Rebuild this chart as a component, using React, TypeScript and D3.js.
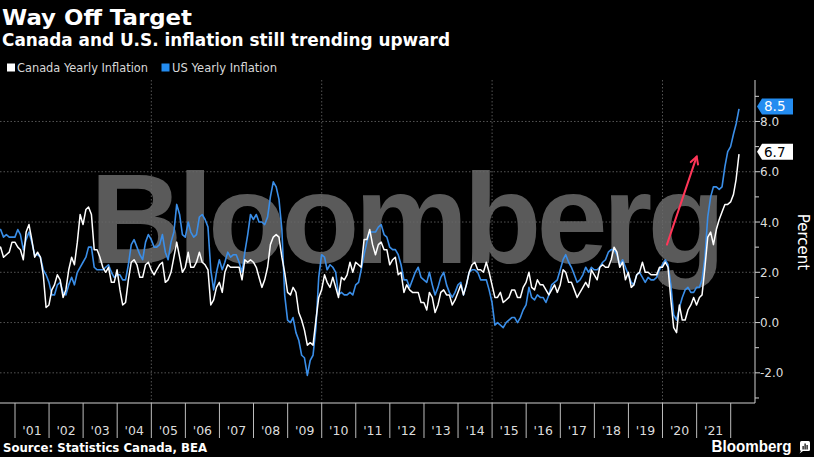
import React from "react";
import * as d3 from "d3";

// ---- Data (monthly YoY %, from Jun 2000 to Mar 2022) ----
const START_YEAR = 2000;
const START_MONTH = 6; // June

const canada: number[] = [
  2.9, 3.0, 2.6, 2.7, 2.8, 3.2, 3.2,
  3.0, 2.9, 2.5, 3.6, 3.9, 3.3, 2.6, 2.8, 2.6, 1.9, 0.6, 0.7,
  1.3, 1.5, 1.9, 1.7, 1.0, 1.3, 2.1, 2.6, 2.3, 3.2, 4.3, 3.9,
  4.5, 4.6, 4.3, 2.9, 2.9, 2.6, 2.2, 2.0, 2.2, 1.6, 1.6, 2.1,
  1.3, 0.7, 0.8, 1.7, 2.4, 2.5, 2.3, 1.8, 1.8, 2.3, 2.4, 2.1,
  1.9, 2.1, 2.3, 2.4, 1.6, 1.7, 2.0, 2.6, 3.2, 2.6, 2.0, 2.2,
  2.8, 2.2, 2.2, 2.4, 2.8, 2.4, 2.3, 2.1, 0.7, 0.9, 1.4, 1.6,
  1.2, 2.0, 2.3, 2.2, 2.2, 2.2, 2.2, 1.7, 2.5, 2.4, 2.5, 2.4,
  2.2, 1.8, 1.4, 1.7, 2.2, 3.1, 3.4, 3.5, 3.4, 2.6, 2.0, 1.2,
  1.1, 1.4, 1.2, 0.4, 0.1, -0.3, -0.9, -0.8, -0.9, 0.1, 1.0, 1.3,
  1.9, 1.6, 1.4, 1.8, 1.4, 1.0, 1.8, 1.7, 1.9, 2.4, 2.0, 2.4,
  2.3, 2.2, 3.3, 3.3, 3.7, 3.1, 2.7, 3.1, 3.2, 2.9, 2.9, 2.3,
  2.5, 2.6, 1.9, 2.0, 1.2, 1.5, 1.3, 1.2, 1.2, 1.2, 0.8, 0.8,
  0.5, 1.2, 1.0, 0.4, 0.7, 1.2, 1.3, 1.1, 1.1, 0.7, 0.9, 1.2,
  1.5, 1.1, 1.5, 2.0, 2.3, 2.4, 2.1, 2.1, 2.0, 2.4, 2.0, 1.5,
  1.0, 1.0, 1.2, 0.8, 0.9, 1.0, 1.3, 1.3, 1.0, 1.0, 1.4, 1.6,
  2.0, 1.4, 1.3, 1.7, 1.5, 1.5, 1.3, 1.1, 1.3, 1.5, 1.2, 1.5,
  2.1, 2.0, 1.6, 1.6, 1.3, 1.0, 1.2, 1.4, 1.6, 1.4, 2.1, 1.9,
  1.7, 2.2, 2.3, 2.2, 2.2, 2.5, 3.0, 2.8, 2.2, 2.4, 1.7, 2.0,
  1.4, 1.5, 1.9, 2.0, 2.4, 2.0, 2.0, 1.9, 1.9, 1.9, 2.2, 2.2,
  2.4, 2.2, 0.9, -0.2, -0.4, 0.7, 0.1, 0.1, 0.5, 0.7, 1.0, 0.7,
  1.0, 1.1, 2.2, 3.4, 3.6, 3.1, 3.7, 4.1, 4.4, 4.7, 4.7, 4.8,
  5.1, 5.7, 6.7,
];

const us: number[] = [
  3.7, 3.7, 3.4, 3.5, 3.4, 3.4, 3.4,
  3.7, 3.5, 2.9, 3.3, 3.6, 3.2, 2.7, 2.7, 2.6, 2.1, 1.9, 1.6,
  1.1, 1.1, 1.5, 1.6, 1.2, 1.1, 1.5, 1.8, 1.5, 2.0, 2.2, 2.4,
  2.6, 3.0, 3.0, 2.2, 2.1, 2.1, 2.1, 2.2, 2.3, 2.0, 1.8, 1.9,
  1.9, 1.7, 1.7, 2.3, 3.1, 3.3, 3.0, 2.7, 2.5, 3.2, 3.5, 3.3,
  3.0, 3.0, 3.1, 3.5, 2.8, 2.5, 3.2, 3.6, 4.7, 4.3, 3.5, 3.4,
  4.0, 3.6, 3.4, 3.5, 4.2, 4.3, 4.1, 3.8, 2.1, 1.3, 2.0, 2.5,
  2.1, 2.4, 2.8, 2.6, 2.7, 2.7, 2.4, 2.0, 2.8, 3.5, 4.3, 4.1,
  4.3, 4.0, 4.0, 3.9, 4.2, 5.0, 5.6, 5.4, 4.9, 3.7, 1.1, 0.1,
  0.0, 0.2, -0.4, -0.7, -1.3, -1.4, -2.1, -1.5, -1.3, -0.2, 1.8, 2.7,
  2.6, 2.1, 2.3, 2.2, 2.0, 1.1, 1.2, 1.1, 1.1, 1.2, 1.1, 1.5,
  1.6, 2.1, 2.7, 3.2, 3.6, 3.6, 3.6, 3.8, 3.9, 3.5, 3.4, 3.0,
  2.9, 2.9, 2.7, 2.3, 1.7, 1.7, 1.4, 1.7, 2.0, 2.2, 1.8, 1.7,
  1.6, 2.0, 1.5, 1.1, 1.4, 1.8, 2.0, 1.5, 1.2, 1.0, 1.2, 1.5,
  1.6, 1.1, 1.5, 2.0, 2.1, 2.1, 2.0, 1.7, 1.7, 1.7, 1.3, 0.8,
  -0.1, 0.0, -0.1, -0.2, 0.0, 0.1, 0.2, 0.2, 0.0, 0.2, 0.5, 0.7,
  1.4, 1.0, 0.9, 1.1, 1.0, 1.0, 0.8, 1.1, 1.5, 1.6, 1.7, 2.1,
  2.5, 2.7, 2.4, 2.2, 1.9, 1.6, 1.7, 1.9, 2.2, 2.0, 2.2, 2.1,
  2.1, 2.2, 2.4, 2.5, 2.8, 2.9, 2.9, 2.7, 2.3, 2.5, 2.2, 1.9,
  1.6, 1.5, 1.9, 2.0, 1.8, 1.6, 1.8, 1.7, 1.7, 1.8, 2.1, 2.3,
  2.5, 2.3, 1.5, 0.3, 0.1, 0.6, 1.0, 1.3, 1.4, 1.2, 1.2, 1.4,
  1.4, 1.7, 2.6, 4.2, 5.0, 5.4, 5.4, 5.3, 5.4, 6.2, 6.8, 7.0,
  7.5, 7.9, 8.5,
];

const yearTicks: number[] = d3.range(2001, 2023);
const yearLabels: number[] = d3.range(2001, 2022);
const yMajorTicks: number[] = [-2, 0, 2, 4, 6, 8];
const yMinorTicks: number[] = [-3, -1, 1, 3, 5, 7, 9];
const gridYears: number[] = [2005, 2010, 2015, 2020];
// arrow annotation in data space: [year fraction, value]
const arrowFrom: [number, number] = [2020.13, 3.1];
const arrowTo: [number, number] = [2021.0, 6.6];

const title = "Way Off Target";
const subtitle = "Canada and U.S. inflation still trending upward";
const legendItems = ["Canada Yearly Inflation", "US Yearly Inflation"];
const source = "Source: Statistics Canada, BEA";

// ---- Layout ----
const W = 814;
const H = 457;
const PL = 0, PR = 755, PT = 80, PB = 403;
const WHITE = "#ffffff";
const BLUE = "#3a8ee8";
const BOX_BLUE = "#238cf0";
const FONT = "'DejaVu Sans', Verdana, sans-serif";

const monthEnd = (i: number) => new Date(START_YEAR, START_MONTH - 1 + i + 1, 0);
const yearDate = (yf: number) => {
  const y = Math.floor(yf);
  const ms = new Date(y + 1, 0, 1).getTime() - new Date(y, 0, 1).getTime();
  return new Date(new Date(y, 0, 1).getTime() + (yf - y) * ms);
};

export default function App() {
  const x = d3.scaleTime()
    .domain([new Date(2001, 0, 1), new Date(2022, 0, 1)])
    .range([15, 730.7]);
  const y = d3.scaleLinear().domain([-3.2, 9.65]).range([PB, PT]);

  const line = d3.line<number>()
    .x((_, i) => x(monthEnd(i)))
    .y((d) => y(d));

  const usLast = us[us.length - 1];
  const caLast = canada[canada.length - 1];

  const ax1 = x(yearDate(arrowFrom[0])), ay1 = y(arrowFrom[1]);
  const ax2 = x(yearDate(arrowTo[0])), ay2 = y(arrowTo[1]);
  const ang = Math.atan2(ay2 - ay1, ax2 - ax1);
  const hl = 8;
  const h1 = [ax2 - hl * Math.cos(ang - 0.5), ay2 - hl * Math.sin(ang - 0.5)];
  const h2 = [ax2 - hl * Math.cos(ang + 0.5), ay2 - hl * Math.sin(ang + 0.5)];

  const valueBox = (v: number, fill: string, textFill: string) => {
    const cy = y(v) - 2.5;
    const x0 = PR + 2;
    const path = `M${x0},${cy} L${x0 + 5},${cy - 8} L${x0 + 36},${cy - 8} L${x0 + 36},${cy + 8} L${x0 + 5},${cy + 8} Z`;
    return (
      <g>
        <path d={path} fill={fill} />
        <text x={x0 + 7} y={cy + 5} fontSize={13.5} fill={textFill} fontFamily={FONT}>
          {v.toFixed(1)}
        </text>
      </g>
    );
  };

  return (
    <svg width={W} height={H} style={{ position: "absolute", left: 0, top: 0, display: "block" }}>
      <rect x={0} y={0} width={W} height={H} fill="#000" />
      <defs>
        <clipPath id="plotclip">
          <rect x={PL} y={PT} width={PR - PL} height={PB - PT} />
        </clipPath>
      </defs>

      {/* Titles */}
      <text x={2} y={25} fontFamily={FONT} fontWeight="bold" fontSize={22} fill="#fff"
        textLength={190} lengthAdjust="spacingAndGlyphs">{title}</text>
      <text x={2} y={46} fontFamily={FONT} fontWeight="bold" fontSize={17.5} fill="#fff"
        textLength={448} lengthAdjust="spacingAndGlyphs">{subtitle}</text>

      {/* Legend */}
      <rect x={7} y={63.5} width={8} height={8} fill={WHITE} />
      <text x={17} y={72.3} fontFamily={FONT} fontSize={11.5} fill="#d8d8d8"
        textLength={131} lengthAdjust="spacingAndGlyphs">{legendItems[0]}</text>
      <rect x={161.5} y={63.5} width={8} height={8} fill={BOX_BLUE} />
      <text x={172} y={72.3} fontFamily={FONT} fontSize={11.5} fill="#d8d8d8"
        textLength={105} lengthAdjust="spacingAndGlyphs">{legendItems[1]}</text>

      {/* Watermark */}
      <text x={90} y={263} fontFamily="'Liberation Sans', Arial, sans-serif" fontWeight="bold"
        fontSize={128} letterSpacing={-5} fill="#5a5a5a">Bloomberg</text>

      {/* Grid */}
      {yMajorTicks.map((v) => (
        <line key={"gy" + v} x1={PL} x2={PR} y1={y(v)} y2={y(v)} stroke="#6a6a6a" strokeWidth={0.8} strokeDasharray="1.5,2" />
      ))}
      {gridYears.map((yr) => (
        <line key={"gx" + yr} x1={x(new Date(yr, 0, 1))} x2={x(new Date(yr, 0, 1))} y1={PT} y2={PB}
          stroke="#6a6a6a" strokeWidth={0.8} strokeDasharray="1.5,2" />
      ))}

      {/* Lines */}
      <g clipPath="url(#plotclip)">
        <path d={line(us) || ""} fill="none" stroke={BLUE} strokeWidth={1.6} strokeLinejoin="round" />
        <path d={line(canada) || ""} fill="none" stroke={WHITE} strokeWidth={1.5} strokeLinejoin="round" />
      </g>

      {/* Arrow */}
      <g stroke="#ff3658" strokeWidth={2} fill="none" strokeLinecap="round">
        <line x1={ax1} y1={ay1} x2={ax2} y2={ay2} />
        <polyline points={`${h1[0]},${h1[1]} ${ax2},${ay2} ${h2[0]},${h2[1]}`} />
      </g>

      {/* Axes */}
      <line x1={PR} x2={PR} y1={PT} y2={PB} stroke="#d0d0d0" strokeWidth={1} />
      <line x1={PL} x2={PR} y1={PB} y2={PB} stroke="#d0d0d0" strokeWidth={1} />
      {yMinorTicks.map((v) => (
        <line key={"ym" + v} x1={PR} x2={PR + 4} y1={y(v)} y2={y(v)} stroke="#d0d0d0" />
      ))}
      {yMajorTicks.map((v) => (
        <g key={"yl" + v}>
          <line x1={PR} x2={PR + 5} y1={y(v)} y2={y(v)} stroke="#d0d0d0" />
          <text x={PR + 5} y={y(v) + 4.5} fontFamily={FONT} fontSize={12} fill="#dcdcdc">
            {v.toFixed(1)}
          </text>
        </g>
      ))}
      <text x={803} y={242} writingMode="vertical-rl" textAnchor="middle" fontFamily={FONT} fontSize={15} fill="#fff">
        Percent
      </text>

      {yearTicks.map((yr) => (
        <line key={"xt" + yr} x1={x(new Date(yr, 0, 1))} x2={x(new Date(yr, 0, 1))} y1={PB} y2={438}
          stroke="#bdbdbd" strokeWidth={1} />
      ))}
      {yearLabels.map((yr) => (
        <text key={"xl" + yr}
          x={(x(new Date(yr, 0, 1)) + x(new Date(yr + 1, 0, 1))) / 2}
          y={435} textAnchor="middle" fontFamily={FONT} fontSize={12.5} fill="#dcdcdc">
          {"'" + String(yr).slice(2)}
        </text>
      ))}

      {/* Value labels */}
      {valueBox(usLast, BOX_BLUE, "#fff")}
      {valueBox(caLast, "#fff", "#000")}

      {/* Footer */}
      <text x={3} y={452} fontFamily={FONT} fontWeight="bold" fontSize={12} fill="#fff"
        textLength={204} lengthAdjust="spacingAndGlyphs">{source}</text>
      <text x={711.5} y={451.5} fontFamily="'Liberation Sans', Arial, sans-serif" fontWeight="bold"
        fontSize={16} fill="#fff" textLength={80} lengthAdjust="spacingAndGlyphs">Bloomberg</text>
      <g>
        <rect x={800} y={441} width={10} height={10} rx={1.5} fill="#fff" />
        <path d="M801,451 L799.5,453.5 L803,451 Z" fill="#fff" />
        <rect x={802.5} y={446} width={1.2} height={3.5} fill="#000" />
        <rect x={804.5} y={443.5} width={1.2} height={6} fill="#000" />
        <rect x={806.5} y={445} width={1.2} height={4.5} fill="#000" />
      </g>
    </svg>
  );
}
